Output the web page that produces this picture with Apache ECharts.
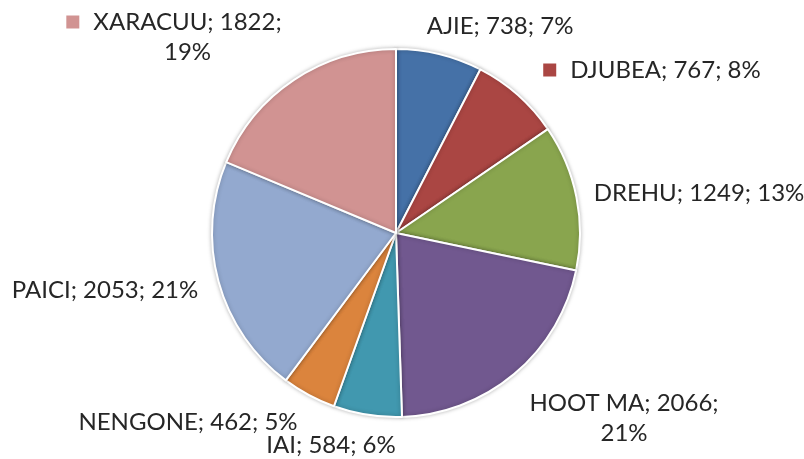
<!DOCTYPE html>
<html>
<head>
<meta charset="utf-8">
<script src="https://cdn.jsdelivr.net/npm/echarts@6/dist/echarts.min.js"></script>
<style>
  html, body { margin: 0; padding: 0; background: #fff; }
  #main { width: 804px; height: 459px; }
</style>
</head>
<body>
<div id="main"></div>
<script>
// donnees
var names = ['AJIE', 'DJUBEA', 'DREHU', 'HOOT MA', 'IAI', 'NENGONE', 'PAICI', 'XARACUU'];
var values = [738, 767, 1249, 2066, 584, 462, 2053, 1822];
var pctLabels = ['7%', '8%', '13%', '21%', '6%', '5%', '21%', '19%'];
var colors = ['#4571A7', '#AA4643', '#89A54E', '#71588F', '#4198AF', '#DB843D', '#93A9CF', '#D19392'];

// mise en forme des etiquettes (centre du texte, retour a la ligne, carre de legende)
var labelPos = [[500, 26], [652, 70], [699, 193], [624, 418], [331, 445], [188, 422], [105, 290], [174, 37]];
var labelWrap = [false, false, false, true, false, false, false, true];
var labelKey = [false, true, false, false, false, false, false, true];

var myChart = echarts.init(document.getElementById('main'));

var data = [];
for (var i = 0; i < names.length; i++) {
	data.push({ name: names[i], value: values[i], itemStyle: { color: colors[i] } });
}

var option = {
	animation: false,
	series: [
		{
			type: 'pie',
			center: [396, 233],
			radius: 184,
			startAngle: 90,
			clockwise: true,
			data: data,
			itemStyle: {
				borderColor: '#fff',
				borderWidth: 2,
				shadowColor: 'rgba(0,0,0,0.25)',
				shadowBlur: 4
			},
			emphasis: { disabled: true },
			labelLine: { show: false },
			label: {
				show: true,
				position: 'outside',
				overflow: 'none',
				color: '#262626',
				fontFamily: 'Lato',
				fontSize: 24,
				lineHeight: 30,
				formatter: function (p) {
					var i = p.dataIndex;
					var key = labelKey[i] ? '{k' + i + '|}{g|}' : '';
					var txt = p.name + '; ' + p.value + ';';
					if (labelWrap[i]) {
						var second = labelKey[i] ? '{p|' + pctLabels[i] + '}' : pctLabels[i];
						return key + txt + '\n' + second;
					}
					return key + txt + ' ' + pctLabels[i];
				},
				rich: {
					k1: { width: 13, height: 13, backgroundColor: colors[1] },
					k7: { width: 13, height: 13, backgroundColor: colors[7] },
					g: { width: 14 },
					p: { fontFamily: 'Lato', fontSize: 24, color: '#262626', padding: [0, 0, 0, 27] }
				}
			},
			labelLayout: function (params) {
				var pos = labelPos[params.dataIndex];
				return { x: pos[0], y: pos[1], align: 'center', verticalAlign: 'middle' };
			}
		}
	]
};

myChart.setOption(option);
</script>
</body>
</html>
